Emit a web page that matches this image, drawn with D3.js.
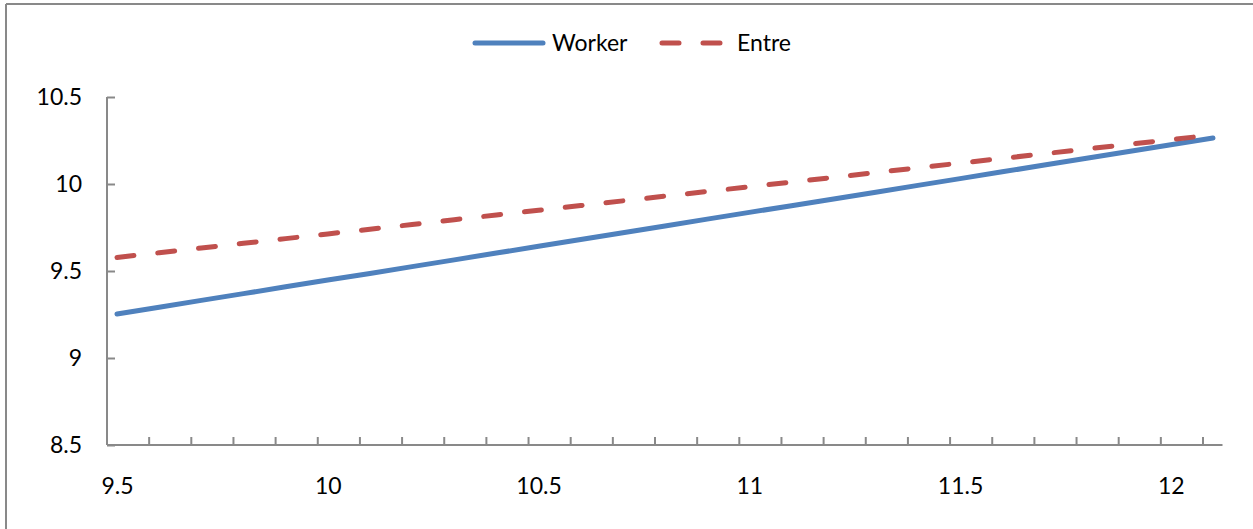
<!DOCTYPE html>
<html>
<head>
<meta charset="utf-8">
<script src="https://cdn.jsdelivr.net/npm/d3@7"></script>
<style>
  html, body { margin: 0; padding: 0; background: #fff; }
  svg { display: block; }
  text { font-family: Lato, "Noto Sans", sans-serif; fill: #000; }
</style>
</head>
<body>
<svg id="chart" width="1253" height="529"></svg>
<script>
const categories = [9.5, 9.6, 9.7, 9.8, 9.9, 10.0, 10.1, 10.2, 10.3, 10.4, 10.5, 10.6, 10.7, 10.8, 10.9,
  11.0, 11.1, 11.2, 11.3, 11.4, 11.5, 11.6, 11.7, 11.8, 11.9, 12.0, 12.1];
const worker = [9.253, 9.292, 9.331, 9.370, 9.409, 9.448, 9.486, 9.525, 9.564, 9.603, 9.642, 9.681, 9.720,
  9.759, 9.798, 9.837, 9.875, 9.914, 9.953, 9.992, 10.031, 10.070, 10.109, 10.148, 10.187, 10.226, 10.264];
const entre = [9.578, 9.605, 9.632, 9.659, 9.686, 9.713, 9.740, 9.767, 9.795, 9.822, 9.849, 9.876, 9.903,
  9.930, 9.957, 9.984, 10.011, 10.038, 10.066, 10.093, 10.120, 10.147, 10.174, 10.201, 10.228, 10.255, 10.282];
const xLabels = [9.5, 10, 10.5, 11, 11.5, 12];
const yTicks = [8.5, 9, 9.5, 10, 10.5];
const seriesNames = ["Worker", "Entre"];
const seriesColors = ["#4F81BD", "#C0504D"];

const svg = d3.select("#chart");
const axisColor = "#898989";
const fontSize = "23px";
const fontFamily = "Lato, 'Noto Sans', sans-serif";

// outer frame (top + left visible)
svg.append("line").attr("x1", 6).attr("y1", 4).attr("x2", 1253).attr("y2", 4)
  .attr("stroke", axisColor).attr("stroke-width", 2);
svg.append("line").attr("x1", 6).attr("y1", 4).attr("x2", 6).attr("y2", 529)
  .attr("stroke", axisColor).attr("stroke-width", 2);

const x = d3.scaleLinear().domain([9.5, 12.1]).range([117, 1213]);
const y = d3.scaleLinear().domain([8.5, 10.5]).range([445, 97]);
const axisLeft = 107, axisRight = 1222.5;
const tickShift = -10.5;

// Y axis
const gy = svg.append("g").attr("transform", `translate(${axisLeft},0)`)
  .call(d3.axisLeft(y).tickValues(yTicks).tickSize(-8).tickPadding(25)
    .tickFormat(d => String(d)));
gy.select(".domain").remove();
gy.append("line").attr("x1", 0).attr("x2", 0).attr("y1", y(10.5)).attr("y2", y(8.5))
  .attr("stroke", axisColor).attr("stroke-width", 2);
gy.selectAll(".tick line").attr("stroke", axisColor).attr("stroke-width", 2);
gy.selectAll(".tick text").style("font-size", fontSize).attr("fill", "#000")
  .style("font-family", fontFamily);

// X axis tick marks (between categories)
const xTickScale = d3.scaleLinear().domain(x.domain()).range(x.range().map(r => r + tickShift));
const gxt = svg.append("g").attr("transform", `translate(0,${y(8.5)})`)
  .call(d3.axisBottom(xTickScale).tickValues(categories.slice(1)).tickSize(-8).tickFormat(""));
gxt.select(".domain").remove();
gxt.selectAll(".tick line").attr("stroke", axisColor).attr("stroke-width", 2);
gxt.append("line").attr("x1", axisLeft).attr("x2", axisRight).attr("y1", 0).attr("y2", 0)
  .attr("stroke", axisColor).attr("stroke-width", 2);

// X labels
const gxl = svg.append("g").attr("transform", `translate(0,${y(8.5)})`)
  .call(d3.axisBottom(x).tickValues(xLabels).tickSize(0).tickPadding(33)
    .tickFormat(d => String(d)));
gxl.select(".domain").remove();
gxl.selectAll(".tick text").style("font-size", fontSize).attr("fill", "#000")
  .style("font-family", fontFamily);

// Lines
const line = d3.line().x((d, i) => x(categories[i])).y(d => y(d));
svg.append("path").datum(worker).attr("d", line).attr("fill", "none")
  .attr("stroke", seriesColors[0]).attr("stroke-width", 5).attr("stroke-linecap", "round")
  .attr("stroke-linejoin", "round");
svg.append("path").datum(entre).attr("d", line).attr("fill", "none")
  .attr("stroke", seriesColors[1]).attr("stroke-width", 5).attr("stroke-linecap", "round")
  .attr("stroke-dasharray", "17,24").attr("stroke-linejoin", "round");

// Legend
const leg = svg.append("g");
leg.append("line").attr("x1", 475).attr("x2", 543).attr("y1", 43).attr("y2", 43)
  .attr("stroke", seriesColors[0]).attr("stroke-width", 5).attr("stroke-linecap", "round");
leg.append("text").attr("x", 552).attr("y", 51).style("font-size", fontSize).text(seriesNames[0]);
leg.append("line").attr("x1", 662).attr("x2", 721).attr("y1", 43).attr("y2", 43)
  .attr("stroke", seriesColors[1]).attr("stroke-width", 5).attr("stroke-linecap", "round")
  .attr("stroke-dasharray", "17,24");
leg.append("text").attr("x", 737).attr("y", 51).style("font-size", fontSize).text(seriesNames[1]);
</script>
</body>
</html>
